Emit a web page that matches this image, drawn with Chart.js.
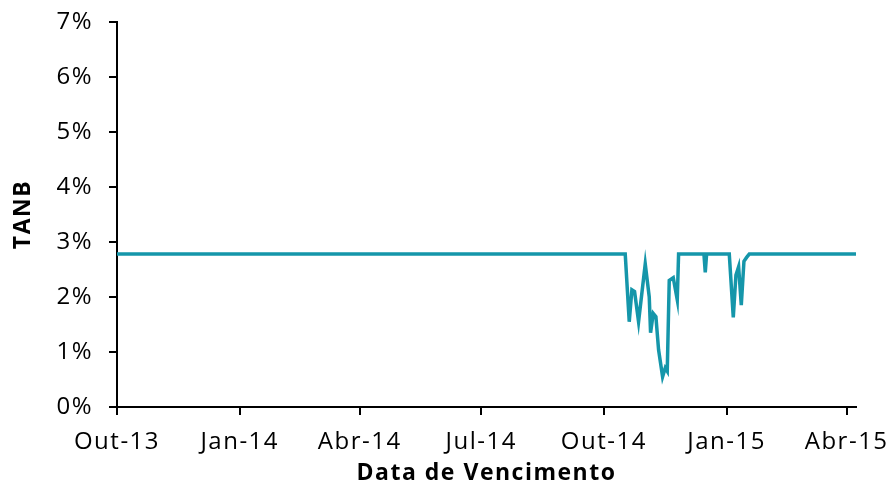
<!DOCTYPE html>
<html>
<head>
<meta charset="utf-8">
<script src="https://cdn.jsdelivr.net/npm/chart.js@4/dist/chart.umd.min.js"></script>
<style>
  html, body { margin: 0; padding: 0; background: #fff; }
  #grafico { width: 893px; height: 487px; }
</style>
</head>
<body>
<div id="grafico"><canvas id="graficoTanb"></canvas></div>
<script>
// dias contados a partir de 1-Out-2013
const dias = [0, 381, 384, 386, 388, 391, 396, 399, 400, 402, 404, 406, 409, 411, 412.5, 414, 417, 420, 421,
  440, 441, 442, 459, 462, 464, 466, 468, 470, 472, 474, 554];
const tanb = [2.78, 2.78, 1.55, 2.13, 2.1, 1.55, 2.6, 2.0, 1.35, 1.7, 1.64, 1.04, 0.55, 0.71, 0.65, 2.3, 2.35, 1.95, 2.78,
  2.78, 2.45, 2.78, 2.78, 1.63, 2.4, 2.55, 1.85, 2.65, 2.72, 2.78, 2.78];

// ticks do eixo x (posição em dias e rótulo)
const diasTicks = [0, 92, 182, 273, 365, 457, 547];
const rotulosTicks = ['Out-13', 'Jan-14', 'Abr-14', 'Jul-14', 'Out-14', 'Jan-15', 'Abr-15'];
const valoresY = [0, 1, 2, 3, 4, 5, 6, 7];

const fonte = "'Open Sans', sans-serif";

// espaçamento entre letras, como no original
const espacamento = {
  id: 'espacamento',
  beforeUpdate: chart => { chart.ctx.letterSpacing = '1.5px'; },
  beforeDraw: chart => { chart.ctx.letterSpacing = '1.5px'; }
};

const ctx = document.getElementById('graficoTanb');
new Chart(ctx, {
  type: 'line',
  data: {
    datasets: [{
      label: 'TANB',
      data: dias.map((d, i) => ({ x: d, y: tanb[i] })),
      borderColor: '#1596aa',
      borderWidth: 3.5,
      pointRadius: 0,
      tension: 0
    }]
  },
  plugins: [espacamento],
  options: {
    responsive: true,
    maintainAspectRatio: false,
    animation: false,
    layout: { padding: { top: 22, right: 37, left: 0, bottom: 0 } },
    plugins: { legend: { display: false }, tooltip: { enabled: false } },
    scales: {
      x: {
        type: 'linear',
        min: 0,
        max: 554,
        afterBuildTicks: axis => { axis.ticks = diasTicks.map(v => ({ value: v })); },
        afterFit: axis => { axis.height = 80; axis.paddingLeft = 0; axis.paddingRight = 0; },
        ticks: {
          color: '#000',
          font: { family: fonte, size: 24 },
          padding: 13,
          maxRotation: 0,
          autoSkip: false,
          callback: v => rotulosTicks[diasTicks.indexOf(v)]
        },
        grid: { drawOnChartArea: false, drawTicks: true, tickLength: 8, color: '#000', lineWidth: 2 },
        border: { color: '#000', width: 2 },
        title: {
          display: true,
          text: 'Data de Vencimento',
          color: '#000',
          font: { family: fonte, size: 23, weight: 'bold' },
          padding: { top: -9, bottom: 0 }
        }
      },
      y: {
        min: 0,
        max: 7,
        afterBuildTicks: axis => { axis.ticks = valoresY.map(v => ({ value: v })); },
        afterFit: axis => { axis.width = 117; axis.paddingTop = 0; axis.paddingBottom = 0; },
        ticks: {
          color: '#000',
          font: { family: fonte, size: 24 },
          padding: 16,
          callback: v => v + '%'
        },
        grid: { drawOnChartArea: false, drawTicks: true, tickLength: 8, color: '#000', lineWidth: 2 },
        border: { color: '#000', width: 2 },
        title: {
          display: true,
          text: 'TANB',
          color: '#000',
          font: { family: fonte, size: 23, weight: 'bold' },
          padding: { top: 10, bottom: 0 }
        }
      }
    }
  }
});
</script>
</body>
</html>
